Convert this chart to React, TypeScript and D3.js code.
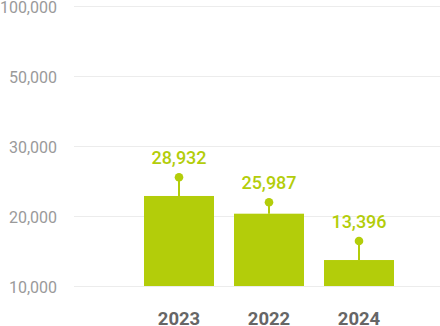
import React from "react";
import * as d3 from "d3";

const categories = ["2023", "2022", "2024"];
const labelValues = [28932, 25987, 13396];
const barValues = [22860, 20330, 13710];
const markerValues = [25530, 21960, 16430];
const tickValues = [10000, 20000, 30000, 50000, 100000];

const W = 440;
const H = 326;
const GREEN = "#b3cd0a";
const FONT = "Roboto, 'Liberation Sans', Arial, sans-serif";

export default function App() {
  const y = d3
    .scaleLinear()
    .domain(tickValues)
    .range([286, 216, 146, 76, 6]);
  const x = d3
    .scaleBand<string>()
    .domain(categories)
    .range([134, 404])
    .paddingInner(2 / 9)
    .paddingOuter(1 / 9);
  const fmt = d3.format(",");
  const base = y(tickValues[0]);

  return (
    <svg
      width={W}
      height={H}
      style={{ position: "absolute", left: 0, top: 0, display: "block" }}
    >
      <g>
        {tickValues.map((t) => (
          <g key={t}>
            <line
              x1={74}
              x2={W}
              y1={y(t) + 0.5}
              y2={y(t) + 0.5}
              stroke="#ececec"
              strokeWidth={1}
            />
            <text
              x={57}
              y={y(t) + 1}
              dy="0.35em"
              textAnchor="end"
              fontFamily={FONT}
              fontSize={16}
              fill="#9a9a9a"
            >
              {fmt(t)}
            </text>
          </g>
        ))}
      </g>
      <g>
        {categories.map((c, i) => {
          const bx = x(c)!;
          const bw = x.bandwidth();
          const cx = bx + bw / 2;
          const top = y(barValues[i]);
          const my = y(markerValues[i]);
          return (
            <g key={c}>
              <rect x={bx} y={top} width={bw} height={base - top} fill={GREEN} />
              <line x1={cx} x2={cx} y1={my} y2={top} stroke={GREEN} strokeWidth={2} />
              <circle cx={cx} cy={my} r={4.3} fill={GREEN} />
              <text
                x={cx}
                y={my - 13.3}
                textAnchor="middle"
                fontFamily={FONT}
                fontSize={18}
                fontWeight={500}
                fill={GREEN}
              >
                {fmt(labelValues[i])}
              </text>
              <text
                x={cx}
                y={324.5}
                textAnchor="middle"
                fontFamily={FONT}
                fontSize={18.5}
                fontWeight={700}
                fill="#666"
              >
                {c}
              </text>
            </g>
          );
        })}
      </g>
    </svg>
  );
}
